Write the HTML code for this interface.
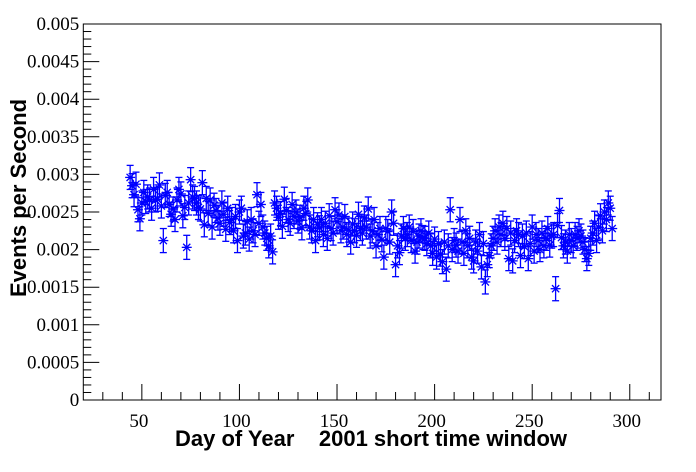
<!DOCTYPE html>
<html><head><meta charset="utf-8"><style>
body{margin:0;background:#fff;}
svg{display:block;}
</style></head><body>
<svg id="chart" width="696" height="472" viewBox="0 0 696 472" xmlns="http://www.w3.org/2000/svg">
<rect x="0" y="0" width="696" height="472" fill="#fff"/>
<rect x="83.3" y="24" width="577.7" height="376" fill="none" stroke="#000" stroke-width="1"/>
<g id="axes"></g>
<g id="marks"></g>
<text x="371" y="446" text-anchor="middle" font-family="Liberation Sans, sans-serif" font-weight="bold" font-size="22" xml:space="preserve">Day of Year    2001 short time window</text>
<text transform="translate(26,198) rotate(-90)" text-anchor="middle" font-family="Liberation Sans, sans-serif" font-weight="bold" font-size="22">Events per Second</text>
</svg>
<script>
const startDay = 44;
const rates = [
2.96,2.85,2.73,2.87,2.53,2.41,2.62,2.76,2.64,2.70,
2.66,2.55,2.80,2.66,2.67,2.86,2.58,2.12,2.72,2.76,
2.60,2.47,2.54,2.40,2.66,2.80,2.74,2.45,2.56,2.03,
2.62,2.93,2.70,2.68,2.62,2.56,2.54,2.89,2.33,2.68,
2.48,2.66,2.30,2.59,2.52,2.42,2.35,2.62,2.47,2.27,
2.55,2.36,2.40,2.25,2.44,2.12,2.50,2.55,2.18,2.22,
2.37,2.14,2.40,2.25,2.20,2.73,2.35,2.60,2.30,2.22,
2.15,2.05,2.18,1.97,2.62,2.55,2.43,2.48,2.31,2.67,
2.52,2.40,2.35,2.60,2.44,2.50,2.38,2.43,2.29,2.55,
2.48,2.66,2.30,2.25,2.40,2.12,2.33,2.29,2.40,2.20,
2.35,2.15,2.45,2.28,2.22,2.53,2.37,2.46,2.25,2.30,
2.44,2.20,2.26,2.10,2.34,2.25,2.19,2.47,2.28,2.22,
2.42,2.30,2.54,2.18,2.25,2.40,2.05,2.20,2.28,2.13,
1.90,2.28,2.24,2.10,2.50,2.35,1.80,2.05,1.96,2.18,
2.28,2.15,2.20,2.30,2.12,2.24,1.98,2.10,2.18,2.25,
2.16,2.15,2.08,2.22,2.05,1.95,2.14,1.90,2.08,1.94,
1.84,2.10,1.74,2.05,2.53,2.00,2.12,2.06,1.98,2.40,
2.10,1.95,2.25,2.05,2.15,1.90,1.85,2.10,1.98,2.20,
1.77,2.08,1.57,1.80,1.92,2.05,2.15,2.25,2.10,2.30,
2.20,2.35,2.15,2.28,1.88,2.22,1.85,2.12,2.25,2.20,
1.92,2.18,2.04,2.22,1.88,2.08,2.30,1.98,2.20,2.12,
2.00,2.22,2.05,2.15,2.28,2.06,2.18,2.20,1.48,2.32,
2.52,2.16,2.05,2.10,1.98,2.20,2.12,2.05,2.20,2.15,
2.25,2.18,2.10,2.00,1.88,1.95,2.15,2.22,2.35,2.12,
2.30,2.45,2.25,2.50,2.40,2.62,2.55,2.28
];
const rateError = 0.16;
const xTicks = [50,100,150,200,250,300];
const yTicks = [0,0.0005,0.001,0.0015,0.002,0.0025,0.003,0.0035,0.004,0.0045,0.005];
const yTickLabels = ["0","0.0005","0.001","0.0015","0.002","0.0025","0.003","0.0035","0.004","0.0045","0.005"];

const L=83.3,R=661,T=24,B=400,XMIN=20,XMAX=316,YMAX=0.005;
const sx=d=>L+(d-XMIN)*(R-L)/(XMAX-XMIN);
const sy=v=>B-v*(B-T)/YMAX;
const NS="http://www.w3.org/2000/svg";
function mk(tag,attrs,parent){const e=document.createElementNS(NS,tag);for(const k in attrs)e.setAttribute(k,attrs[k]);parent.appendChild(e);return e;}
const axes=document.getElementById('axes');
const marks=document.getElementById('marks');
for(let d=30;d<=310;d+=10){
  const major=d%50===0;
  const t=mk('line',{x1:sx(d),x2:sx(d),y1:B,y2:B-(major?16:8),stroke:'#000','stroke-width':1},axes);
  
  
}
xTicks.forEach(d=>{
  const t=mk('text',{x:sx(d)-3,y:B+27,'text-anchor':'middle','font-family':'Liberation Serif, serif','font-size':19},axes);
  t.textContent=String(d);
  
  
});
for(let i=0;i<=50;i++){
  const v=i*0.0001;
  const major=i%5===0;
  const t=mk('line',{x1:L,x2:L+(major?16:8),y1:sy(v),y2:sy(v),stroke:'#000','stroke-width':1},axes);
  
  
}
yTicks.forEach((v,i)=>{
  const t=mk('text',{x:L-4,y:sy(v)+6,'text-anchor':'end','font-family':'Liberation Serif, serif','font-size':19},axes);
  t.textContent=yTickLabels[i];
  
  
});
rates.forEach((r,i)=>{
  const d=startDay+i;
  const x=sx(d),y=sy(r*1e-3);
  const yh=sy((r+rateError)*1e-3),yl=sy((r-rateError)*1e-3);
  const g=mk('g',{stroke:'#0000ff','stroke-width':1.3,fill:'none'},marks);
  
  
  mk('line',{x1:x,x2:x,y1:yh,y2:yl},g);
  mk('line',{x1:x-3.5,x2:x+3.5,y1:yh,y2:yh},g);
  mk('line',{x1:x-3.5,x2:x+3.5,y1:yl,y2:yl},g);
  mk('line',{x1:x-5,x2:x+5,y1:y,y2:y},g);
  mk('line',{x1:x-3.6,x2:x+3.6,y1:y-3.6,y2:y+3.6},g);
  mk('line',{x1:x-3.6,x2:x+3.6,y1:y+3.6,y2:y-3.6},g);
});
</script>
</body></html>
